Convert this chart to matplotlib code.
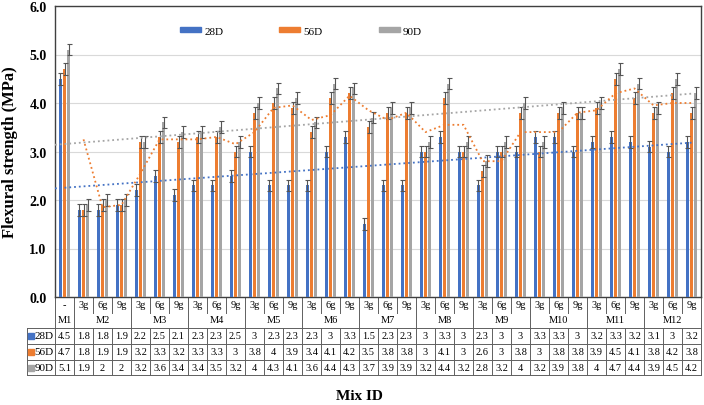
import numpy as np
import matplotlib
matplotlib.use("Agg")
import matplotlib.pyplot as plt
import matplotlib.transforms as mtransforms
from matplotlib.patches import Patch

plt.rcParams['font.family'] = ['Liberation Serif', 'DejaVu Serif']

# data
mixes = ["M1", "M2", "M3", "M4", "M5", "M6", "M7", "M8", "M9", "M10", "M11", "M12"]
doses = ["-"] + ["3g", "6g", "9g"] * 11
d28 = [4.5, 1.8, 1.8, 1.9, 2.2, 2.5, 2.1, 2.3, 2.3, 2.5, 3, 2.3, 2.3, 2.3, 3, 3.3, 1.5,
       2.3, 2.3, 3, 3.3, 3, 2.3, 3, 3, 3.3, 3.3, 3, 3.2, 3.3, 3.2, 3.1, 3, 3.2]
d56 = [4.7, 1.8, 1.9, 1.9, 3.2, 3.3, 3.2, 3.3, 3.3, 3, 3.8, 4, 3.9, 3.4, 4.1, 4.2, 3.5,
       3.8, 3.8, 3, 4.1, 3, 2.6, 3, 3.8, 3, 3.8, 3.8, 3.9, 4.5, 4.1, 3.8, 4.2, 3.8]
d90 = [5.1, 1.9, 2, 2, 3.2, 3.6, 3.4, 3.4, 3.5, 3.2, 4, 4.3, 4.1, 3.6, 4.4, 4.3, 3.7,
       3.9, 3.9, 3.2, 4.4, 3.2, 2.8, 3.2, 4, 3.2, 3.9, 3.8, 4, 4.7, 4.4, 3.9, 4.5, 4.2]
err = 0.12

series = [("28D", d28, "#4472C4"), ("56D", d56, "#ED7D31"), ("90D", d90, "#A5A5A5")]

n = len(d28)
x = np.arange(n)

fig = plt.figure(figsize=(7.04, 4.06), dpi=100)
W, H = 704, 406
ax_l, ax_r, ax_t, ax_b = 55, 701, 7, 298
ax = fig.add_axes([ax_l / W, 1 - ax_b / H, (ax_r - ax_l) / W, (ax_b - ax_t) / H])

offs = [-0.22, 0, 0.22]
for (name, vals, col), o in zip(series, offs):
    ax.bar(x + o, vals, 0.19, color=col, label=name, zorder=3,
           yerr=err, error_kw=dict(ecolor="#555555", elinewidth=0.8, capsize=1.8, capthick=0.8))

# trendlines: linear for 28D and 90D, 2-period moving average for 56D
xt = np.linspace(-0.5, 33.0, 50)
for vals, col in [(d28, "#4472C4"), (d90, "#A5A5A5")]:
    k, b = np.polyfit(x, vals, 1)
    ax.plot(xt, k * xt + b, ls=":", color=col, lw=1.3, zorder=4)
ma = [(d56[i - 1] + d56[i]) / 2 for i in range(1, n)]
ax.plot(x[1:], ma, ls=":", color="#ED7D31", lw=1.3, zorder=4)

ax.set_xlim(-0.5, n - 0.5)
ax.set_ylim(0, 6)
ax.set_yticks(np.arange(0, 6.1, 1))
ax.set_yticklabels(["%.1f" % v for v in np.arange(0, 6.1, 1)], fontsize=10, fontweight="bold")
ax.set_xticks([])
ax.tick_params(axis="y", length=0, pad=6)
ax.grid(axis="y", color="#D9D9D9", lw=0.8, zorder=0)
for s in ax.spines.values():
    s.set_color("#404040")
    s.set_linewidth(1)
ax.set_ylabel("Flexural strength (MPa)", fontsize=12, fontweight="bold", labelpad=8)

handles = [Patch(color=c, label=nm) for nm, _, c in series]
ax.legend(handles=handles, loc="center", bbox_to_anchor=(0.381, 0.914), ncol=3, frameon=False,
          fontsize=8, handlelength=1.9, handleheight=0.35, columnspacing=5.0, handletextpad=0.3)

# data table below the axis
tr = mtransforms.blended_transform_factory(ax.transData, ax.transAxes)
unit = (ax_r - ax_l) / n


def ay(p):
    return -(p - ax_b) / (ax_b - ax_t)


def px(p):
    return (p - ax_l) / unit - 0.5


lc = "#606060"
fs = 7.5
left = px(27)
for p in [329, 345, 361, 376]:
    ax.plot([left, n - 0.5], [ay(p)] * 2, color=lc, lw=0.7, transform=tr, clip_on=False)
ax.plot([left, left], [ay(329), ay(376)], color=lc, lw=0.7, transform=tr, clip_on=False)
for i in range(n + 1):
    xb = i - 0.5
    if i in (0, n) or (i - 1) % 3 == 0:
        ax.plot([xb, xb], [ay(298), ay(376)], color=lc, lw=0.7, transform=tr, clip_on=False)
    else:
        ax.plot([xb, xb], [ay(298), ay(314)], color=lc, lw=0.7, transform=tr, clip_on=False)
        ax.plot([xb, xb], [ay(329), ay(376)], color=lc, lw=0.7, transform=tr, clip_on=False)

for i, dz in enumerate(doses):
    ax.text(i, ay(306), dz, ha="center", va="center", fontsize=fs, transform=tr)
ax.text(0, ay(321), mixes[0], ha="center", va="center", fontsize=fs, transform=tr)
for j, m in enumerate(mixes[1:]):
    ax.text(2 + 3 * j, ay(321), m, ha="center", va="center", fontsize=fs, transform=tr)

for r, (name, vals, col) in enumerate(series):
    yc = ay(337 + 16 * r)
    ax.plot([px(31)], [yc], marker="s", ms=4, color=col, transform=tr, clip_on=False)
    ax.text(px(54), yc, name, ha="right", va="center", fontsize=fs + 0.5, transform=tr)
    for i, v in enumerate(vals):
        ax.text(i, yc, "%g" % v, ha="center", va="center", fontsize=fs, transform=tr)

fig.text(359 / W, 1 - 397 / H, "Mix ID", ha="center", va="center", fontsize=11, fontweight="bold")

fig.savefig("out.png", dpi=100)
